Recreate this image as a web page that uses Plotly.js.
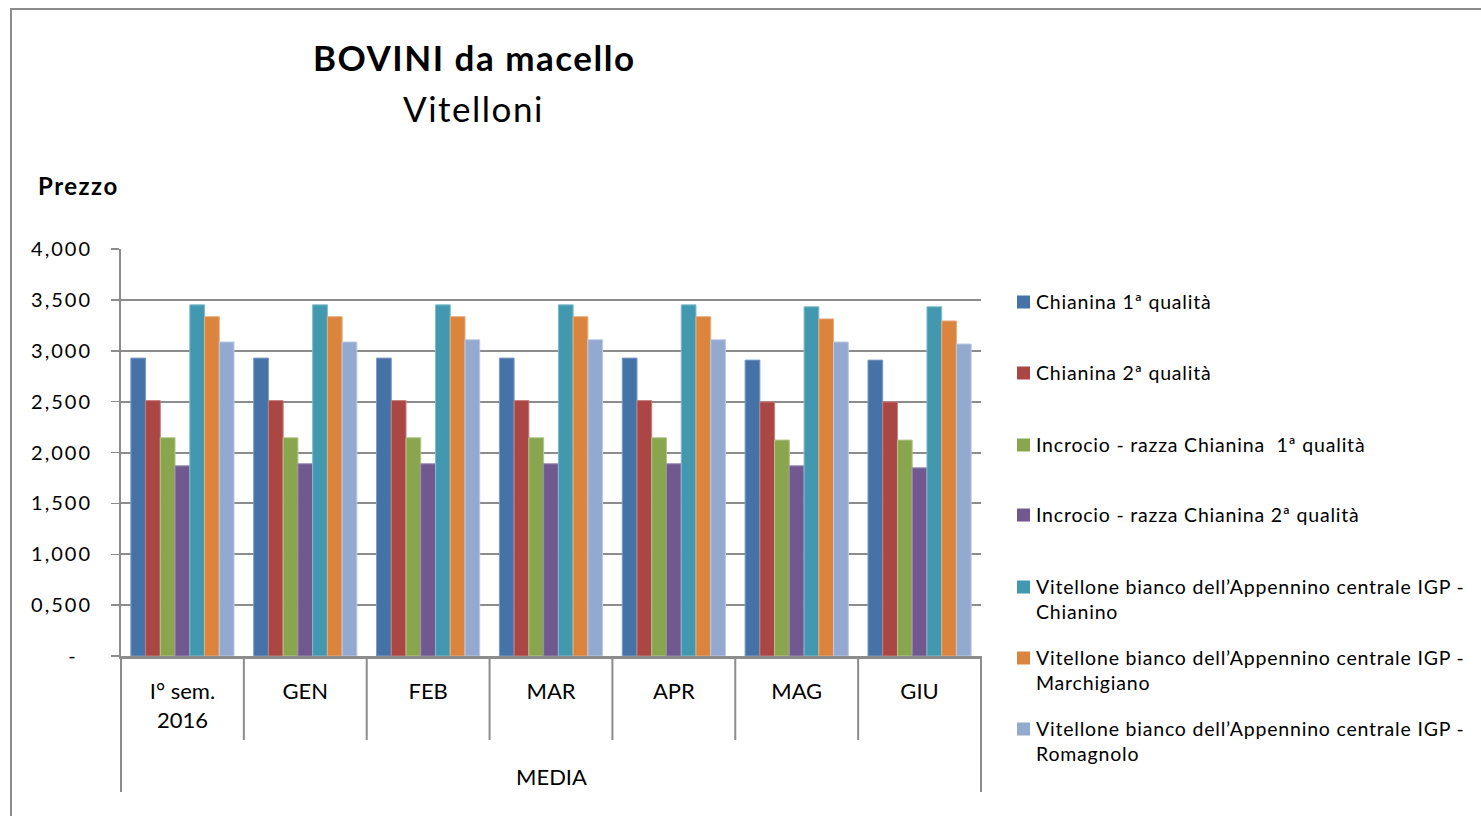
<!DOCTYPE html>
<html>
<head>
<meta charset="utf-8">
<script src="https://cdn.plot.ly/plotly-3.0.1.min.js"></script>
<style>
  html, body { margin: 0; padding: 0; background: #fff; }
  #chart { position: absolute; left: 0; top: 0; width: 1481px; height: 816px; }
  #frame { position: absolute; left: 10px; top: 8px; width: 1480px; height: 820px;
           border-left: 2px solid #8c8c8c; border-top: 2px solid #8c8c8c; pointer-events: none; }
</style>
</head>
<body>
<div id="chart"></div>
<div id="frame"></div>
<script>
// ---- data ----
const outerLabel = "MEDIA";
const periods = ["I° sem.<br>2016", "GEN", "FEB", "MAR", "APR", "MAG", "GIU"];
const seriesNames = [
  "Chianina 1ª qualità",
  "Chianina 2ª qualità",
  "Incrocio - razza Chianina  1ª qualità",
  "Incrocio - razza Chianina 2ª qualità",
  "Vitellone bianco dell’Appennino centrale IGP -<br>Chianino",
  "Vitellone bianco dell’Appennino centrale IGP -<br>Marchigiano",
  "Vitellone bianco dell’Appennino centrale IGP -<br>Romagnolo"
];
const chianina1 = [2928, 2928, 2928, 2928, 2928, 2908, 2908];
const chianina2 = [2510, 2510, 2510, 2510, 2510, 2497, 2497];
const incrocio1 = [2145, 2145, 2145, 2145, 2145, 2122, 2122];
const incrocio2 = [1869, 1889, 1889, 1889, 1889, 1869, 1849];
const igpChianino = [3451, 3451, 3451, 3451, 3451, 3432, 3432];
const igpMarchigiano = [3335, 3335, 3335, 3335, 3335, 3313, 3293];
const igpRomagnolo = [3086, 3086, 3108, 3108, 3108, 3086, 3066];
const yTickVals = [0, 500, 1000, 1500, 2000, 2500, 3000, 3500, 4000];
const yTickText = ["-\u00A0\u00A0", "0,500", "1,000", "1,500", "2,000", "2,500", "3,000", "3,500", "4,000"];

const seriesValues = [chianina1, chianina2, incrocio1, incrocio2, igpChianino, igpMarchigiano, igpRomagnolo];
const colors = ["#4572A7", "#AA4643", "#89A54E", "#71588F", "#4198AF", "#DB843D", "#93A9CF"];
const lineColors = ["#7d9cc4", "#c67f7d", "#b0c78a", "#9c89b5", "#80bccb", "#e9ac7d", "#bccbe4"];

const FONT = "Lato, 'Open Sans', sans-serif";
const spaced = (t, px) => `<span style="letter-spacing:${px}px">${t}</span>`;

// plot-area geometry (pixels) -> paper helpers
const PL = 121, PR = 981, PT = 249, PB = 656;
const px2x = (px) => (px - PL) / (PR - PL);
const px2y = (py) => (PB - py) / (PB - PT);

const traces = seriesValues.map((vals, i) => ({
  type: "bar",
  name: seriesNames[i],
  x: periods,
  y: vals,
  marker: { color: colors[i], line: { color: lineColors[i], width: 1 } },
  hoverinfo: "y+name"
}));

const shapes = [];
const annotations = [];
// dividers between periods and outer group borders
for (let i = 0; i <= periods.length; i++) {
  const outer = (i === 0 || i === periods.length);
  shapes.push({
    type: "line", xref: "paper", yref: "paper",
    x0: i / periods.length, x1: i / periods.length,
    y0: 0, y1: outer ? px2y(792) : px2y(740),
    line: { color: "#8c8c8c", width: 2 }
  });
}
annotations.push({
  text: outerLabel, xref: "paper", yref: "paper", x: 0.5, y: px2y(776),
  xanchor: "center", yanchor: "middle", showarrow: false,
  font: { family: FONT, size: 22, color: "#000" }
});

// manual legend, one item per series
const legendRowY = [302, 373, 445, 515, 587, 658, 729];
seriesNames.forEach((name, i) => {
  const cy = legendRowY[i];
  shapes.push({
    type: "rect", xref: "paper", yref: "paper",
    x0: px2x(1017), x1: px2x(1030), y0: px2y(cy - 6.5), y1: px2y(cy + 6.5),
    fillcolor: colors[i], line: { width: 0 }
  });
  annotations.push({
    text: spaced(name, 0.8), xref: "paper", yref: "paper",
    x: px2x(1034), y: px2y(cy - 14), xanchor: "left", yanchor: "top", align: "left",
    showarrow: false, font: { family: FONT, size: 19.5, color: "#000" }
  });
});

// titles
annotations.push(
  { text: "<b>" + spaced("BOVINI da macello", 1.5) + "</b>", xref: "paper", yref: "paper",
    x: px2x(474), y: px2y(57), xanchor: "center", yanchor: "middle",
    showarrow: false, font: { family: FONT, size: 35, color: "#000" } },
  { text: spaced("Vitelloni", 1.5), xref: "paper", yref: "paper",
    x: px2x(473), y: px2y(108), xanchor: "center", yanchor: "middle",
    showarrow: false, font: { family: FONT, size: 35, color: "#000" } },
  { text: "<b>" + spaced("Prezzo", 1.5) + "</b>", xref: "paper", yref: "paper",
    x: px2x(36), y: px2y(185), xanchor: "left", yanchor: "middle",
    showarrow: false, font: { family: FONT, size: 24, color: "#000" } }
);

const layout = {
  width: 1481, height: 816,
  margin: { l: PL, r: 1481 - PR, t: PT, b: 816 - PB },
  paper_bgcolor: "#ffffff", plot_bgcolor: "#ffffff",
  font: { family: FONT, color: "#000", size: 20 },
  barmode: "group",
  bargap: 0.16,
  bargroupgap: 0,
  showlegend: false,
  xaxis: {
    type: "category",
    showline: true, linecolor: "#8c8c8c", linewidth: 3,
    showgrid: false,
    ticks: "", ticklabelstandoff: 14,
    tickfont: { family: FONT, size: 22, color: "#000" },
    fixedrange: true
  },
  yaxis: {
    range: [0, 4000],
    tickvals: yTickVals, ticktext: yTickText.map(t => spaced(t, 2)),
    showline: true, linecolor: "#8c8c8c", linewidth: 2,
    showgrid: true, gridcolor: "#8c8c8c", gridwidth: 2,
    ticks: "outside", ticklen: 8, tickcolor: "#8c8c8c", tickwidth: 1.5,
    ticklabelstandoff: 15,
    tickfont: { family: FONT, size: 20, color: "#000" },
    zeroline: false,
    fixedrange: true
  },
  shapes: shapes,
  annotations: annotations
};

Plotly.newPlot("chart", traces, layout, { displayModeBar: false, staticPlot: true });
</script>
</body>
</html>
